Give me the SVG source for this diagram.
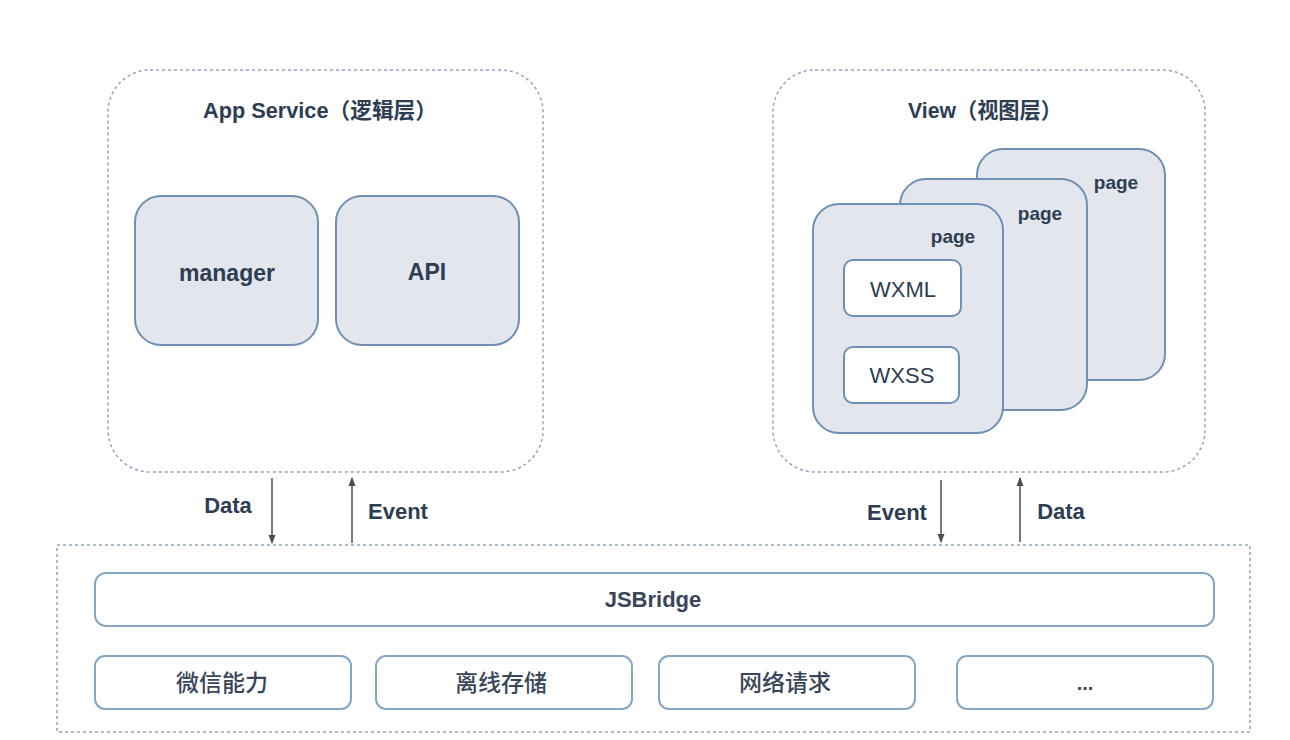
<svg xmlns="http://www.w3.org/2000/svg" width="1290" height="740" viewBox="0 0 1290 740">
<defs>
<style>
.t{font-family:"Liberation Sans","Noto Sans CJK SC",sans-serif;fill:#2e3d52;text-anchor:middle}
.b{font-weight:bold}
.m{font-weight:500;fill:#3a4658}
.dot{fill:none;stroke:#8ea6c0;stroke-width:1.5;stroke-dasharray:3 3}
.gray{fill:#e3e6ec;stroke:#6f90b4;stroke-width:2}
.white{fill:#fff;stroke:#6f90b4;stroke-width:2}
.wbox{fill:#fff;stroke:#86a6c6;stroke-width:2}
.conn{stroke:#4a4f57;stroke-width:1.5;fill:none}
</style>
<marker id="ah" viewBox="0 0 10 10" refX="9" refY="5" markerWidth="6" markerHeight="6" orient="auto-start-reverse">
<path d="M0,1 L10,5 L0,9 z" fill="#4a4f57"/>
</marker>
</defs>
<rect width="1290" height="740" fill="#ffffff"/>

<g id="app-service">
<rect class="dot" x="108" y="70" width="435" height="402" rx="42"/>
<text class="t b" x="320" y="118" font-size="22" textLength="234" lengthAdjust="spacingAndGlyphs">App Service（逻辑层）</text>
</g>
<g id="manager">
<rect class="gray" x="135" y="196" width="183" height="149" rx="26"/>
<text class="t b" x="227" y="281" font-size="23">manager</text>
</g>
<g id="api">
<rect class="gray" x="336" y="196" width="183" height="149" rx="26"/>
<text class="t b" x="427" y="280" font-size="23">API</text>
</g>

<g id="view">
<rect class="dot" x="773" y="70" width="432" height="402" rx="42"/>
<text class="t b" x="985" y="118" font-size="22" textLength="154" lengthAdjust="spacingAndGlyphs">View（视图层）</text>
</g>
<g id="page3">
<rect class="gray" x="977" y="149" width="188" height="231" rx="26"/>
<text class="t b" x="1116" y="189" font-size="19">page</text>
</g>
<g id="page2">
<rect class="gray" x="900" y="179" width="187" height="231" rx="26"/>
<text class="t b" x="1040" y="220" font-size="19">page</text>
</g>
<g id="page1">
<rect class="gray" x="813" y="204" width="190" height="229" rx="26"/>
<text class="t b" x="953" y="243" font-size="19">page</text>
</g>
<g id="wxml">
<rect class="white" x="844" y="260" width="117" height="56" rx="9"/>
<text class="t" x="903" y="297" font-size="22">WXML</text>
</g>
<g id="wxss">
<rect class="white" x="844" y="347" width="115" height="56" rx="9"/>
<text class="t" x="902" y="383" font-size="22">WXSS</text>
</g>

<g id="bottom">
<rect class="dot" x="57" y="545" width="1193" height="187"/>
</g>
<g id="jsbridge">
<rect class="wbox" x="95" y="573" width="1119" height="53" rx="11"/>
<text class="t b" x="653" y="607" font-size="22" fill="#3a4658" style="fill:#3a4658">JSBridge</text>
</g>
<g id="wechat">
<rect class="wbox" x="95" y="656" width="256" height="53" rx="10"/>
<text class="t m" x="222" y="691" font-size="23">微信能力</text>
</g>
<g id="storage">
<rect class="wbox" x="376" y="656" width="256" height="53" rx="10"/>
<text class="t m" x="501" y="691" font-size="23">离线存储</text>
</g>
<g id="network">
<rect class="wbox" x="659" y="656" width="256" height="53" rx="10"/>
<text class="t m" x="785" y="691" font-size="23">网络请求</text>
</g>
<g id="more">
<rect class="wbox" x="957" y="656" width="256" height="53" rx="10"/>
<text class="t b" x="1085" y="690" font-size="20" style="fill:#3a4658">...</text>
</g>

<g id="connectors">
<line class="conn" x1="272" y1="478" x2="272" y2="543" marker-end="url(#ah)"/>
<line class="conn" x1="352" y1="543" x2="352" y2="478" marker-end="url(#ah)"/>
<line class="conn" x1="941" y1="480" x2="941" y2="542" marker-end="url(#ah)"/>
<line class="conn" x1="1020" y1="542" x2="1020" y2="478" marker-end="url(#ah)"/>
<text class="t b" x="228" y="513" font-size="22">Data</text>
<text class="t b" x="398" y="519" font-size="22">Event</text>
<text class="t b" x="897" y="520" font-size="22">Event</text>
<text class="t b" x="1061" y="519" font-size="22">Data</text>
</g>
</svg>
